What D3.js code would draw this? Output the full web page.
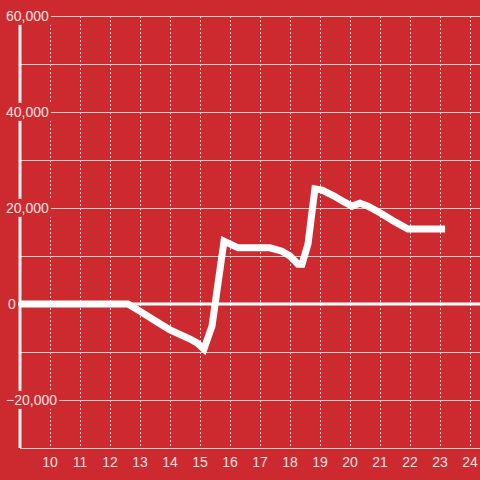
<!DOCTYPE html>
<html>
<head>
<meta charset="utf-8">
<title>line chart</title>
<style>
  body { margin: 0; background: #cd2a2f; }
  svg { display: block; }
  text { font-family: "Liberation Sans", Arial, sans-serif; font-size: 14px; fill: #f3e2e2; }
</style>
<script src="https://d3js.org/d3.v7.min.js"></script>
</head>
<body>
<script>
  // data
  var xValues = [9, 12.6, 13.1, 13.57, 14, 14.67, 14.9, 15.13, 15.4, 15.8, 16.27, 17.33, 17.73, 18, 18.27,
                 18.4, 18.6, 18.83, 19.07, 19.47, 19.8, 20.07, 20.33, 20.6, 21, 21.5, 21.93, 23.17];
  var yValues = [0, 0, -1900, -3750, -5400, -7300, -8100, -9400, -4600, 13100, 11700, 11700, 11000, 10000, 8300,
                 8300, 12500, 24000, 23750, 22500, 21250, 20400, 21000, 20400, 19000, 17100, 15600, 15600];
  var xTicks = [10, 11, 12, 13, 14, 15, 16, 17, 18, 19, 20, 21, 22, 23, 24];
  var yGrid = [-30000, -20000, -10000, 10000, 20000, 30000, 40000, 50000, 60000];
  var yLabels = [60000, 40000, 20000, 0, -20000];

  var W = 480, H = 480;
  var mLeft = 20, mRight = 480, mTop = 16, mBottom = 448;

  var svg = d3.select("body").append("svg").attr("width", W).attr("height", H);

  var x = d3.scaleLinear().domain([9, 24.333]).range([mLeft, mRight]);
  var y = d3.scaleLinear().domain([-30000, 60000]).range([mBottom, mTop]);

  // vertical dotted grid
  svg.append("g").selectAll("line").data(xTicks).enter().append("line")
     .attr("x1", function (d) { return x(d); }).attr("x2", function (d) { return x(d); })
     .attr("y1", mTop).attr("y2", mBottom)
     .attr("stroke", "#e6dada").attr("stroke-width", 1).attr("stroke-dasharray", "2,2")
     .attr("shape-rendering", "crispEdges");

  // horizontal grid
  svg.append("g").selectAll("line").data(yGrid).enter().append("line")
     .attr("x1", mLeft).attr("x2", mRight)
     .attr("y1", function (d) { return y(d); }).attr("y2", function (d) { return y(d); })
     .attr("stroke", "#d9cccc").attr("stroke-width", 1)
     .attr("shape-rendering", "crispEdges");

  // y axis line
  svg.append("line").attr("x1", mLeft).attr("x2", mLeft).attr("y1", mTop).attr("y2", mBottom)
     .attr("stroke", "#f2f2f2").attr("stroke-width", 3);

  // zero line
  svg.append("line").attr("x1", 17).attr("x2", mRight).attr("y1", y(0)).attr("y2", y(0))
     .attr("stroke", "#ffffff").attr("stroke-width", 3);

  // x tick labels
  svg.append("g").selectAll("text").data(xTicks).enter().append("text")
     .attr("x", function (d) { return x(d); }).attr("y", 467)
     .attr("text-anchor", "middle")
     .text(function (d) { return d; });

  // y labels with a red box behind them
  var fmt = d3.format(",");
  var lab = svg.append("g").selectAll("g").data(yLabels).enter().append("g");
  lab.append("rect").attr("fill", "#cd2a2f");
  lab.append("text")
     .attr("x", function (d) { return d === 0 ? 8 : 6; })
     .attr("y", function (d) { return y(d); })
     .attr("dy", "0.35em")
     .text(function (d) { return fmt(d); });
  lab.each(function () {
    var g = d3.select(this);
    var b = g.select("text").node().getBBox();
    g.select("rect").attr("x", b.x - 2).attr("y", b.y - 1)
     .attr("width", b.width + 4).attr("height", b.height + 2);
  });

  // the series
  var pts = xValues.map(function (v, i) { return [v, yValues[i]]; });
  var line = d3.line()
               .x(function (d) { return x(d[0]); })
               .y(function (d) { return y(d[1]); });
  svg.append("path").datum(pts)
     .attr("d", line)
     .attr("fill", "none")
     .attr("stroke", "#ffffff")
     .attr("stroke-width", 7)
     .attr("stroke-linejoin", "miter");
</script>
</body>
</html>
